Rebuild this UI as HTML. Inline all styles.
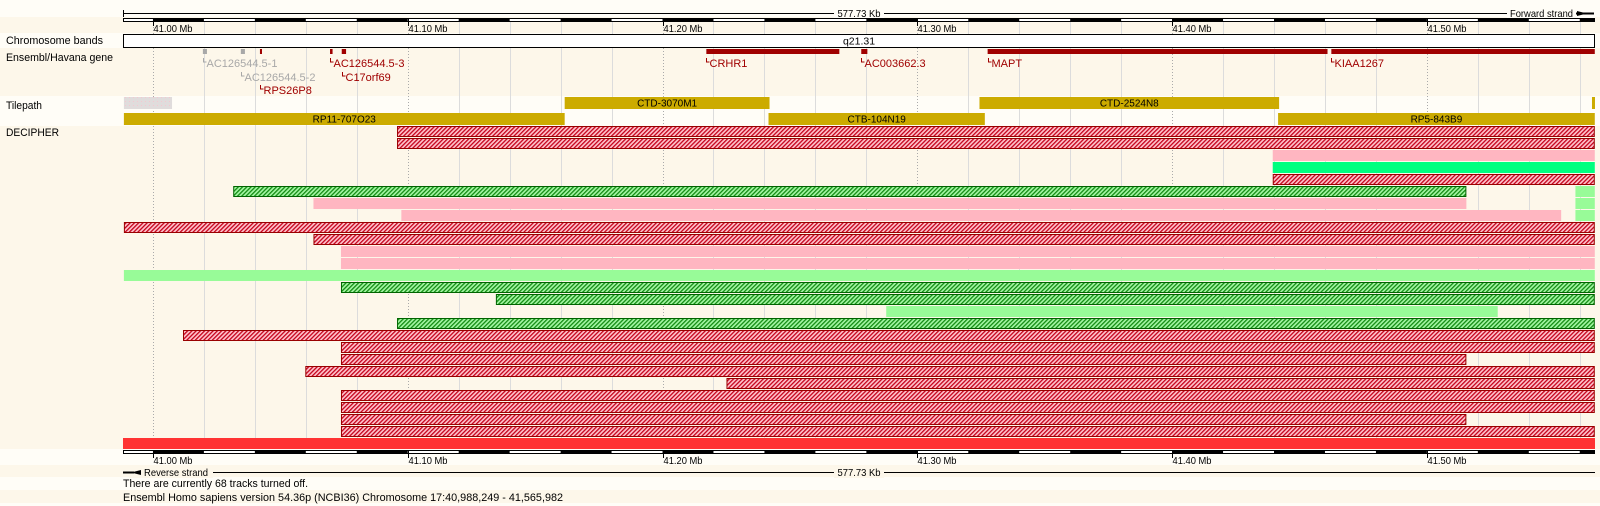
<!DOCTYPE html>
<html><head><meta charset="utf-8"><title>Ensembl region view</title>
<style>
html,body{margin:0;padding:0;background:#fffdf7;}
svg{display:block;font-family:"Liberation Sans",sans-serif;}
</style></head>
<body>
<svg id="chart" width="1600" height="506" viewBox="0 0 1600 506" xmlns="http://www.w3.org/2000/svg">
<defs>
<pattern id="hatchRed" patternUnits="userSpaceOnUse" width="3" height="3" patternTransform="rotate(45)">
<rect width="3" height="3" fill="#ffc4cc"/><rect width="1.3" height="3" fill="#c4001a"/>
</pattern>
<pattern id="hatchGreen" patternUnits="userSpaceOnUse" width="3" height="3" patternTransform="rotate(45)">
<rect width="3" height="3" fill="#a4f7a4"/><rect width="1.3" height="3" fill="#128a12"/>
</pattern>
<pattern id="dots" patternUnits="userSpaceOnUse" width="4" height="4">
<rect width="4" height="4" fill="#e0dcdc"/><rect x="1" y="1" width="1" height="1" fill="#f4c8d0"/>
</pattern>
</defs>
<g id="bg"></g>
<g id="grid"></g>
<g id="content"></g>
</svg>
<script>
// region + scale
const regionStart = 40.988249, regionEnd = 41.565982;
const majorTicks = [41.00, 41.10, 41.20, 41.30, 41.40, 41.50];
const tickLabels = ["41.00 Mb","41.10 Mb","41.20 Mb","41.30 Mb","41.40 Mb","41.50 Mb"];

// genes
const geneNames = ["AC126544.5-1","AC126544.5-2","RPS26P8","AC126544.5-3","C17orf69","CRHR1","AC003662.3","MAPT","KIAA1267"];
const geneStarts = [41.0196,41.0345,41.0420,41.0695,41.0741,41.2172,41.2780,41.3276,41.4625];
const geneEnds   = [41.0212,41.0361,41.0428,41.0705,41.0758,41.2694,41.2804,41.4610,41.5659];
const geneLabelRow = [0,1,2,0,1,0,0,0,0];
const geneIsGray = [1,1,0,0,0,0,0,0,0];

// tilepath
const tileNames = ["","CTD-3070M1","CTD-2524N8","","RP11-707O23","CTB-104N19","RP5-843B9"];
const tileStarts = [40.9886,41.1616,41.3244,41.5648,40.9886,41.2416,41.4416];
const tileEnds   = [41.0075,41.2420,41.4420,41.5659,41.1616,41.3265,41.5659];
const tileRow    = [0,0,0,0,1,1,1];

// DECIPHER features
const decRow   = [0,1,2,3,4,5,5,6,6,7,7,8,9,10,11,12,13,14,15,16,17,18,19,20,21,22,23,24,25];
const decStart = [41.0958,41.0958,41.4395,41.4395,41.4395,41.0315,41.5583,41.0630,41.5583,41.0975,41.5583,40.9886,41.0630,41.0738,41.0738,40.9886,41.0738,41.1346,41.2878,41.0958,41.0118,41.0738,41.0738,41.0598,41.2251,41.0738,41.0738,41.0738,41.0738];
const decEnd   = [41.5659,41.5659,41.5659,41.5659,41.5659,41.5155,41.5659,41.5155,41.5659,41.5527,41.5659,41.5659,41.5659,41.5659,41.5659,41.5659,41.5659,41.5659,41.5278,41.5659,41.5659,41.5659,41.5155,41.5659,41.5659,41.5659,41.5659,41.5155,41.5659];
const decType  = ["hr","hr","pink","spring","hr","hg","lg","pink","lg","pink","lg","hr","hr","pink","pink","lg","hg","hg","lg","hg","hr","hr","hr","hr","hr","hr","hr","hr","hr"];

const X0 = 123, X1 = 1595;
function xs(mb){ return X0 + (mb - regionStart) / (regionEnd - regionStart) * (X1 - X0); }
const NS = "http://www.w3.org/2000/svg";
function mk(tag, attrs, parent, txt){
  const e = document.createElementNS(NS, tag);
  for (const k in attrs) e.setAttribute(k, attrs[k]);
  if (txt !== undefined) e.textContent = txt;
  (parent || document.getElementById('content')).appendChild(e);
  return e;
}
const bgG = document.getElementById('bg'), gridG = document.getElementById('grid');
const stripes = [[0,17,"#fffdf7"],[17,33,"#fdf7ea"],[33,48,"#fffdf7"],[48,96,"#fdf7ea"],[96,126,"#fffdf7"],[126,449,"#fdf7ea"],[449,465,"#fffdf7"],[465,477,"#fdf7ea"],[477,490,"#fffdf7"],[490,503,"#fdf7ea"],[503,506,"#fffdf7"]];
stripes.forEach(s=>{ const r = mk('rect',{x:0,y:s[0],width:1600,height:s[1]-s[0],fill:s[2]},bgG);

 });

for (let i = 0; i < 30; i++) {
  const mb = 40.98 + i*0.02;
  if (mb < regionStart || mb > regionEnd) continue;
  const x = Math.round(xs(mb)) + 0.5;
  const major = Math.abs((mb*10) - Math.round(mb*10)) < 1e-6;
  const l = mk('line',{x1:x,x2:x,y1:21,y2:449,stroke:major?"#aaa":"#dcdcdc","stroke-width":1,"stroke-dasharray":major?"1,2":"none"},gridG);
  
  
}

const leftLabels = [["Chromosome bands",44,97],["Ensembl/Havana gene",61,107],["Tilepath",109,36],["DECIPHER",136,53]];
leftLabels.forEach(l=>{ const t = mk('text',{x:6,y:l[1],"font-size":11,fill:"#000",textLength:l[2],lengthAdjust:"spacingAndGlyphs"},null,l[0]);

 });

function scaleBar(y, labelY){
  const g = mk('g',{});
  
  
  mk('rect',{x:X0+0.5,y:y+0.5,width:X1-X0-1,height:3,fill:"#fff",stroke:"#000","stroke-width":1},g);
  for (let i = 0; i < 30; i++) {
    const a = 41.00 + i*0.04, b = a + 0.02;
    if (a > regionEnd) break;
    const xa = xs(a), xb = Math.min(xs(b), X1);
    mk('rect',{x:xa,y:y,width:xb-xa,height:4,fill:"#000"},g);
  }
  majorTicks.forEach((m,i)=>{
    const x = Math.round(xs(m)) + 0.5;
    mk('line',{x1:x,x2:x,y1:y,y2:y+8,stroke:"#000"},g);
    const t = mk('text',{x:x,y:labelY,"font-size":10.5,fill:"#000",textLength:39,lengthAdjust:"spacingAndGlyphs"},g,tickLabels[i]);
    
    
  });
}
const topRuler = mk('g',{});


mk('line',{x1:X0,x2:X1,y1:13.5,y2:13.5,stroke:"#000"},topRuler);
mk('line',{x1:X0+0.5,x2:X0+0.5,y1:10,y2:17,stroke:"#000"},topRuler);
mk('rect',{x:834,y:7,width:50,height:12,fill:"#fffdf7"},topRuler);
mk('text',{x:859,y:17,"font-size":10.5,"text-anchor":"middle",textLength:43,lengthAdjust:"spacingAndGlyphs"},topRuler,"577.73 Kb");
mk('rect',{x:1507,y:7,width:88,height:12,fill:"#fffdf7"},topRuler);
mk('text',{x:1510,y:17,"font-size":10.5,textLength:63,lengthAdjust:"spacingAndGlyphs"},topRuler,"Forward strand");
mk('polygon',{points:"1577,11 1587,13.5 1577,16",fill:"#000"},topRuler);
mk('line',{x1:1576,x2:1594,y1:13.5,y2:13.5,stroke:"#000","stroke-width":2},topRuler);
scaleBar(18, 32);

const band = mk('rect',{x:X0+0.5,y:34.5,width:X1-X0-1,height:13,fill:"#fff",stroke:"#000"});


mk('text',{x:859,y:44.5,"font-size":10.5,"text-anchor":"middle"},null,"q21.31");

const labelYs = [67, 81, 94];
geneNames.forEach((n,i)=>{
  const col = geneIsGray[i] ? "#a8a8a8" : "#a00000";
  const x0 = xs(geneStarts[i]), x1 = Math.max(xs(geneEnds[i]), x0+2);
  const r = mk('rect',{x:x0,y:49,width:x1-x0,height:5,fill:col});
  
  
  const ly = labelYs[geneLabelRow[i]];
  const xl = Math.round(x0)+0.5;
  mk('path',{d:`M${xl},${ly-9} V${ly-5} H${xl+3}`,stroke:col,fill:"none"});
  const t = mk('text',{x:xl+3,y:ly,"font-size":11,fill:col},null,n);
  
  
});

tileNames.forEach((n,i)=>{
  const y = tileRow[i] ? 113 : 97;
  const x0 = xs(tileStarts[i]), x1 = Math.max(xs(tileEnds[i]), x0+3);
  const gray = (i === 0);
  const r = mk('rect',{x:x0,y:y,width:x1-x0,height:12,fill:gray?"url(#dots)":"#ccab00"});
  
  
  if (n) {
    const t = mk('text',{x:(x0+x1)/2,y:y+9.5,"font-size":10,"text-anchor":"middle",fill:"#000"},null,n);
    
    
  }
});

decRow.forEach((row,i)=>{
  const y = 126 + row*12;
  const x0 = xs(decStart[i]), x1 = xs(decEnd[i]);
  const tp = decType[i];
  let attrs;
  if (tp === "hr") attrs = {x:x0+0.5,y:y+0.5,width:x1-x0-1,height:10,fill:"url(#hatchRed)",stroke:"#990000"};
  else if (tp === "hg") attrs = {x:x0+0.5,y:y+0.5,width:x1-x0-1,height:10,fill:"url(#hatchGreen)",stroke:"#006400"};
  else if (tp === "pink") attrs = {x:x0,y:y,width:x1-x0,height:11,fill:"#ffb6c1"};
  else if (tp === "lg") attrs = {x:x0,y:y,width:x1-x0,height:11,fill:"#98fb98"};
  else attrs = {x:x0,y:y,width:x1-x0,height:11,fill:"#00ff7f"};
  const r = mk('rect',attrs);
  
  
});
const redBar = mk('rect',{x:X0,y:438,width:X1-X0,height:11,fill:"#ff3333"});



scaleBar(450, 464);
const botRuler = mk('g',{});


mk('line',{x1:X0,x2:X1,y1:472.5,y2:472.5,stroke:"#000"},botRuler);
mk('rect',{x:129,y:466,width:84,height:12,fill:"#fdf7ea"},botRuler);
mk('line',{x1:X0,x2:134,y1:472.5,y2:472.5,stroke:"#000","stroke-width":2},botRuler);
mk('polygon',{points:"141,470 131,472.5 141,475",fill:"#000"},botRuler);
mk('text',{x:144,y:476,"font-size":10.5,textLength:64,lengthAdjust:"spacingAndGlyphs"},botRuler,"Reverse strand");
mk('rect',{x:834,y:466,width:50,height:12,fill:"#fdf7ea"},botRuler);
mk('text',{x:859,y:476,"font-size":10.5,"text-anchor":"middle",textLength:43,lengthAdjust:"spacingAndGlyphs"},botRuler,"577.73 Kb");

const info1 = mk('text',{x:123,y:487,"font-size":11,textLength:185,lengthAdjust:"spacingAndGlyphs"},null,"There are currently 68 tracks turned off.");


const info2 = mk('text',{x:123,y:501,"font-size":11,textLength:440,lengthAdjust:"spacingAndGlyphs"},null,"Ensembl Homo sapiens version 54.36p (NCBI36) Chromosome 17:40,988,249 - 41,565,982");


</script>
</body></html>
